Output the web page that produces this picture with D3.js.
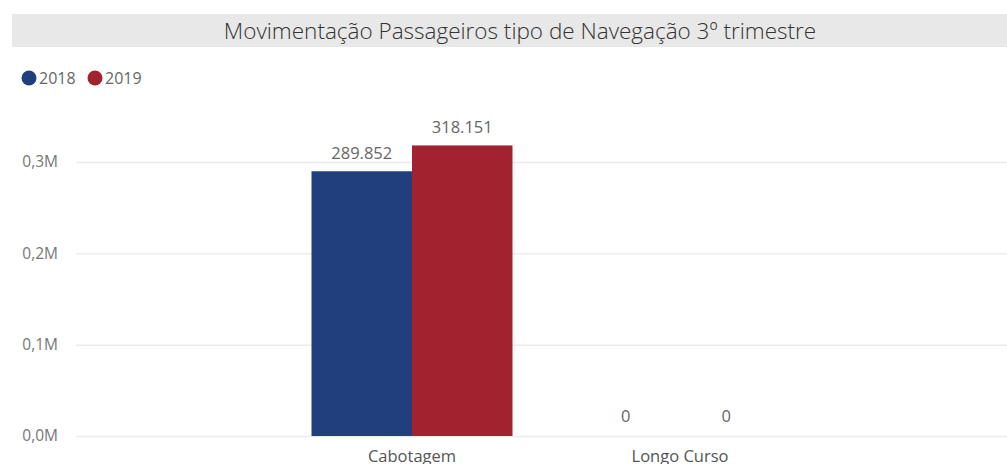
<!DOCTYPE html>
<html>
<head>
<meta charset="utf-8">
<script src="https://cdn.jsdelivr.net/npm/d3@7"></script>
<style>
  body { margin: 0; background: #fff; }
  svg { display: block; font-family: "Open Sans", "Segoe UI", sans-serif; }
</style>
</head>
<body>
<div id="chart"></div>
<script>
/* DATA */
const categories = ["Cabotagem", "Longo Curso"];
const years = ["2018", "2019"];
const values2018 = [289852, 0];
const values2019 = [318151, 0];
const yTicks = [0, 100000, 200000, 300000];
const yTickLabels = ["0,0M", "0,1M", "0,2M", "0,3M"];
const title = "Movimentação Passageiros tipo de Navegação 3º trimestre";

/* CONSTANTS */
const width = 1007,
  height = 464,
  colors = ["#213f7c", "#a3222f"];

const rows = categories.map((c, i) => ({
  category: c,
  vals: [
    { year: years[0], value: values2018[i] },
    { year: years[1], value: values2019[i] }
  ]
}));

const svg = d3.select("#chart")
  .append("svg")
  .attr("width", width)
  .attr("height", height);

// title band
svg.append("rect")
  .attr("x", 12).attr("y", 14)
  .attr("width", width - 12).attr("height", 33)
  .attr("fill", "#e8e8e8");

svg.append("text")
  .attr("x", 520).attr("y", 39)
  .attr("text-anchor", "middle")
  .attr("font-size", 22.5)
  .attr("font-weight", 300)
  .attr("fill", "#333")
  .text(title);

// legend
const legend = svg.append("g")
  .selectAll("g")
  .data(years)
  .join("g")
  .attr("transform", (d, i) => `translate(${29 + i * 66}, 78)`);

legend.append("circle")
  .attr("r", 7.5)
  .attr("fill", (d, i) => colors[i]);

legend.append("text")
  .attr("x", 10).attr("y", 6)
  .attr("font-size", 16)
  .attr("fill", "#666")
  .text(d => d);

// scales
const yScale = d3.scaleLinear()
  .domain([0, 300000])
  .range([436, 162]);

const xScale = d3.scaleBand()
  .domain(categories)
  .range([278, 814])
  .paddingInner(0.25)
  .paddingOuter(0.125);

const xInner = d3.scaleBand()
  .domain(years)
  .range([0, xScale.bandwidth()]);

// gridlines + y labels
const yAxis = d3.axisLeft(yScale)
  .tickValues(yTicks)
  .tickSize(-(width - 76))
  .tickFormat((d, i) => yTickLabels[i]);

const yAxisGroup = svg.append("g")
  .attr("transform", `translate(76, 0)`)
  .call(yAxis);

yAxisGroup.select(".domain").remove();
yAxisGroup.selectAll("line")
  .attr("stroke", "#ececec")
  .attr("stroke-width", 1.5);
yAxisGroup.selectAll("text")
  .attr("x", -18)
  .attr("font-size", 15.5)
  .attr("font-family", "Open Sans, sans-serif")
  .attr("fill", "#777");

// bars
const groups = svg.append("g")
  .selectAll("g")
  .data(rows)
  .join("g")
  .attr("transform", d => `translate(${xScale(d.category)}, 0)`);

groups.selectAll("rect")
  .data(d => d.vals)
  .join("rect")
  .attr("x", d => xInner(d.year))
  .attr("y", d => yScale(d.value))
  .attr("width", xInner.bandwidth())
  .attr("height", d => yScale(0) - yScale(d.value))
  .attr("fill", (d, i) => colors[i]);

groups.selectAll("text")
  .data(d => d.vals)
  .join("text")
  .attr("x", d => xInner(d.year) + xInner.bandwidth() / 2 - (d.value === 0 ? 4 : 0))
  .attr("y", d => yScale(d.value) - (d.value === 0 ? 14 : 12))
  .attr("text-anchor", "middle")
  .attr("font-size", 16.5)
  .attr("fill", "#666")
  .text(d => d3.format(",")(d.value).replace(/,/g, "."));

// category labels
const xAxis = d3.axisBottom(xScale).tickSize(0);
const xAxisGroup = svg.append("g")
  .attr("transform", `translate(0, 437)`)
  .call(xAxis);
xAxisGroup.select(".domain").remove();
xAxisGroup.selectAll("text")
  .attr("y", 13)
  .attr("font-size", 16.5)
  .attr("font-family", "Open Sans, sans-serif")
  .attr("fill", "#555");
</script>
</body>
</html>
